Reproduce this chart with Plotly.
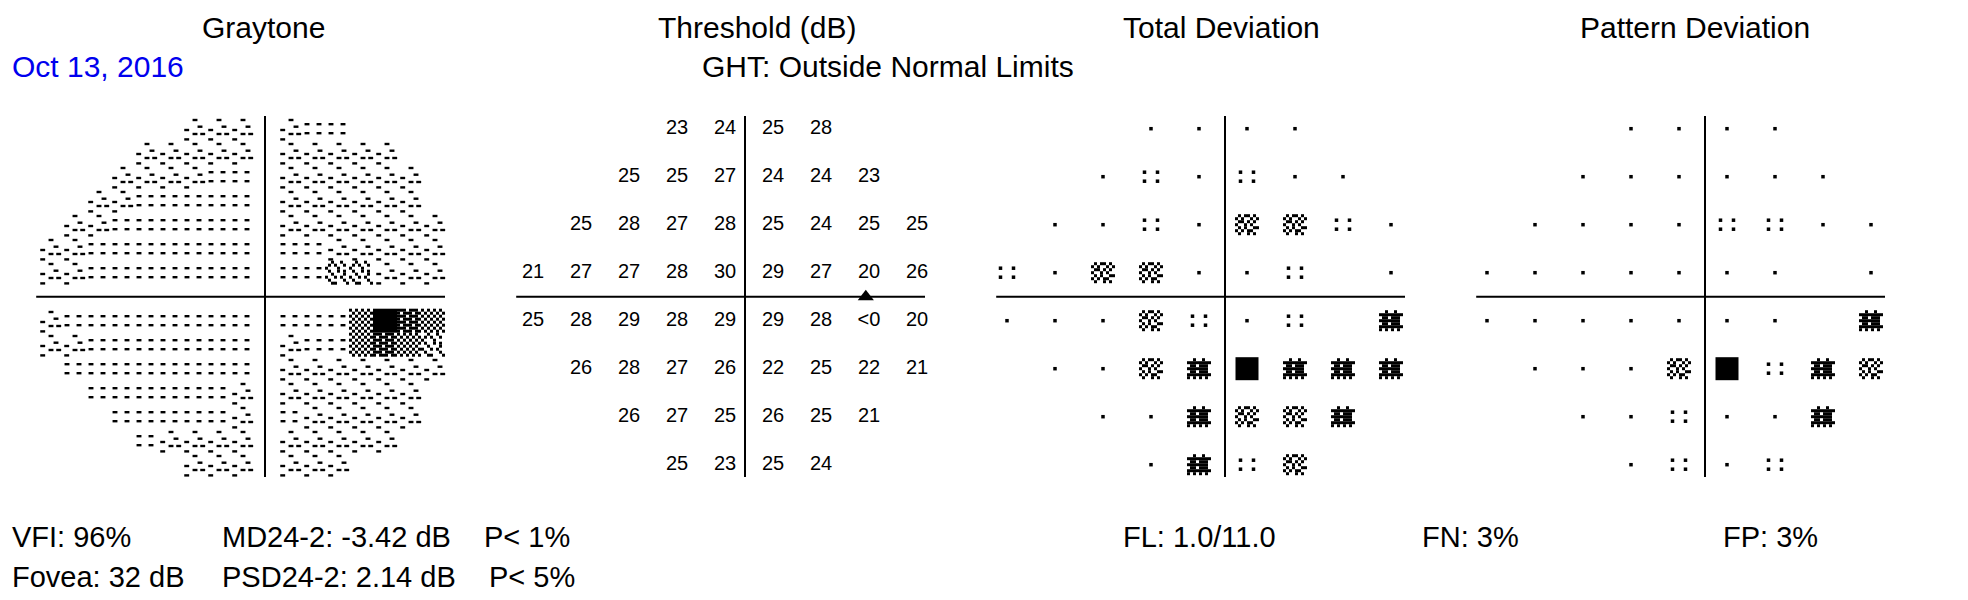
import plotly.graph_objects as go

# ---------------- data ----------------
row_y = [21, 15, 9, 3, -3, -9, -15, -21]
row_x = [
    [-9, -3, 3, 9],
    [-15, -9, -3, 3, 9, 15],
    [-21, -15, -9, -3, 3, 9, 15, 21],
    [-27, -21, -15, -9, -3, 3, 9, 15, 21],
    [-27, -21, -15, -9, -3, 3, 9, 15, 21],
    [-21, -15, -9, -3, 3, 9, 15, 21],
    [-15, -9, -3, 3, 9, 15],
    [-9, -3, 3, 9],
]
threshold_db = [
    ["23", "24", "25", "28"],
    ["25", "25", "27", "24", "24", "23"],
    ["25", "28", "27", "28", "25", "24", "25", "25"],
    ["21", "27", "27", "28", "30", "29", "27", "20", "26"],
    ["25", "28", "29", "28", "29", "29", "28", "<0", "20"],
    ["26", "28", "27", "26", "22", "25", "22", "21"],
    ["26", "27", "25", "26", "25", "21"],
    ["25", "23", "25", "24"],
]
# 0 = not significant, 1 = P<5%, 2 = P<2%, 3 = P<1%, 4 = P<0.5%, None = blind spot
total_dev_class = [
    [0, 0, 0, 0],
    [0, 1, 0, 1, 0, 0],
    [0, 0, 1, 0, 2, 2, 1, 0],
    [1, 0, 2, 2, 0, 0, 1, None, 0],
    [0, 0, 0, 2, 1, 0, 1, None, 3],
    [0, 0, 2, 3, 4, 3, 3, 3],
    [0, 0, 3, 2, 2, 3],
    [0, 3, 1, 2],
]
pattern_dev_class = [
    [0, 0, 0, 0],
    [0, 0, 0, 0, 0, 0],
    [0, 0, 0, 0, 1, 1, 0, 0],
    [0, 0, 0, 0, 0, 0, 0, None, 0],
    [0, 0, 0, 0, 0, 0, 0, None, 3],
    [0, 0, 0, 2, 4, 1, 3, 2],
    [0, 0, 1, 0, 0, 3],
    [0, 1, 0, 1],
]
blind_spot_x = [14.6]
blind_spot_y = [0.0]

# graytone tiles: 0 (lightest) .. 4 (black), 'a' = light dither, '.' = outside field
graytone_x = [-27, -24, -21, -18, -15, -12, -9, -6, -3, 3, 6, 9, 12, 15, 18, 21]
graytone_y = [21, 18, 15, 12, 9, 6, 3, -3, -6, -9, -12, -15, -18, -21]
graytone_levels = [
    "......111100....",
    "....1111111111..",
    "...111100111111.",
    "..1100000111111.",
    ".110000001111111",
    "1100000000011111",
    "11000000000aa111",
    "1000000000002432",
    "110000000100232a",
    ".000000001111111",
    "..0000001111111.",
    "...000001011111.",
    "....0111111111..",
    "......111111....",
]

titles = ["Graytone", "Threshold (dB)", "Total Deviation", "Pattern Deviation"]
exam_date = "Oct 13, 2016"
ght_text = "GHT: Outside Normal Limits"
index_labels = ["VFI: 96%", "Fovea: 32 dB"]
global_labels = ["MD24-2: -3.42 dB", "PSD24-2: 2.14 dB"]
global_p_labels = ["P< 1%", "P< 5%"]
reliability_labels = ["FL: 1.0/11.0", "FN: 3%", "FP: 3%"]

# ---------------- layout / style constants ----------------
OFF = 8                        # page body margin
W, H = 1968 - OFF, 600 - OFF
PPD = 8.0                      # pixels per degree
ZERO_Y = 296.7 - OFF           # pixel row of horizontal meridian
PANEL_C = [265 - OFF, 749 - OFF, 1223 - OFF, 1703 - OFF]
VLINE_OFF = [0.0, -0.5, 0.25, 0.25]
XR = [-31, 25]
YR = [-(H - ZERO_Y) / PPD, ZERO_Y / PPD]
FONT = "Liberation Sans, Arial, sans-serif"


def grid(rows, cell):
    nr, nc = len(rows), len(rows[0])
    out = []
    for i, r in enumerate(rows):
        for j, ch in enumerate(r):
            if ch == "X":
                out.append(((j - (nc - 1) / 2) * cell / PPD, -(i - (nr - 1) / 2) * cell / PPD))
    return out


def px(dxy):
    return [(dx / PPD, -dy / PPD) for dx, dy in dxy]


GT_DASH = {
    "0": px([(-6, -4.5), (6, -4.5), (-6, 4.5), (6, 4.5)]),
    "1": px([(2, -8.7), (7, -2), (-6.3, 1.3), (2, 5.3), (9.7, 5.3), (-6.3, 10.7)]),
}
GT_SQ = {
    "a": grid(["..X..X..", ".X.X..X.", "X...X...", ".X..X.X.",
               "..X...X.", "X..X.X..", ".X....X.", "..XX...X"], 3),
    "2": grid(["X.X.X.X.", ".X.X.X.X"] * 4, 3),
    "3": grid(["XXX.XXX.", "X.XXX.XX"] * 4, 3),
}
SYM_DOTS = {0: [(0, 0)], 1: px([(-6.5, -4.5), (6.5, -4.5), (-6.5, 4.5), (6.5, 4.5)])}
SYM_SQ = {
    2: grid([".X.XX.X.", "X.X..X.X", ".XX.X.X.", "X..X.X..", ".X.X..XX", "X.X.XX..", ".X..X.X."], 3),
    3: grid(["..X..X..", "XXXXXXXX", ".XX.XXX.", "XXXXXXX.", ".XX.XXX.", "XXXXXXXX", "X.X.X.X."], 3),
}

fig = go.Figure()


def add_pts(i, xs, ys, **marker):
    ax = "" if i == 0 else str(i + 1)
    fig.add_trace(go.Scatter(x=xs, y=ys, mode="markers", xaxis="x" + ax, yaxis="y" + ax,
                             marker=marker, hoverinfo="skip", showlegend=False))


# ---- graytone ----
dash_x, dash_y, sq_x, sq_y, big_x, big_y = [], [], [], [], [], []
for gy, levels in zip(graytone_y, graytone_levels):
    for gx, lv in zip(graytone_x, levels):
        if lv in GT_DASH:
            for dx, dy in GT_DASH[lv]:
                dash_x.append(gx + dx); dash_y.append(gy + dy)
        elif lv in GT_SQ:
            for dx, dy in GT_SQ[lv]:
                sq_x.append(gx + dx); sq_y.append(gy + dy)
        elif lv == "4":
            big_x.append(gx); big_y.append(gy)
add_pts(0, dash_x, dash_y, symbol="line-ew", size=3.5, line=dict(width=2.4, color="black"))
add_pts(0, sq_x, sq_y, symbol="square", size=3, color="black", line=dict(width=0))
add_pts(0, big_x, big_y, symbol="square", size=24, color="black", line=dict(width=0))

# ---- threshold values ----
tx, ty, tt = [], [], []
for yv, xs, vals in zip(row_y, row_x, threshold_db):
    for xv, v in zip(xs, vals):
        tx.append(xv); ty.append(yv); tt.append(v)
fig.add_trace(go.Scatter(x=tx, y=ty, text=tt, mode="text", xaxis="x2", yaxis="y2",
                         textposition="middle center",
                         textfont=dict(family=FONT, size=20, color="black"),
                         hoverinfo="skip", showlegend=False))
add_pts(1, blind_spot_x, blind_spot_y, symbol="triangle-up", size=14, color="black", line=dict(width=0))

# ---- probability plots ----
for pi, classes in ((2, total_dev_class), (3, pattern_dev_class)):
    dx_, dy_, sx_, sy_, bx_, by_ = [], [], [], [], [], []
    for yv, xs, cl in zip(row_y, row_x, classes):
        for xv, c in zip(xs, cl):
            if c is None:
                continue
            if c in SYM_DOTS:
                for ox, oy in SYM_DOTS[c]:
                    dx_.append(xv + ox); dy_.append(yv + oy)
            elif c in SYM_SQ:
                for ox, oy in SYM_SQ[c]:
                    sx_.append(xv + ox); sy_.append(yv + oy)
            else:
                bx_.append(xv); by_.append(yv)
    add_pts(pi, dx_, dy_, symbol="square", size=3.5, color="black", line=dict(width=0))
    add_pts(pi, sx_, sy_, symbol="square", size=3, color="black", line=dict(width=0))
    add_pts(pi, bx_, by_, symbol="square", size=23, color="black", line=dict(width=0))

# ---- axes, cross lines ----
layout = dict(width=W, height=H, autosize=False, margin=dict(l=0, r=0, t=0, b=0),
              paper_bgcolor="white", plot_bgcolor="rgba(0,0,0,0)", showlegend=False)
shapes = []
for i, c in enumerate(PANEL_C):
    ax = "" if i == 0 else str(i + 1)
    dom = [(c + XR[0] * PPD) / W, (c + XR[1] * PPD) / W]
    layout["xaxis" + ax] = dict(domain=dom, range=XR, visible=False, fixedrange=True,
                                anchor="y" + ax)
    layout["yaxis" + ax] = dict(domain=[0, 1], range=YR, visible=False, fixedrange=True,
                                anchor="x" + ax)
    v = VLINE_OFF[i]
    shapes.append(dict(type="line", xref="x" + ax, yref="y" + ax, x0=v - 28.6, x1=v + 22.5,
                       y0=0, y1=0, line=dict(color="black", width=2), layer="below"))
    shapes.append(dict(type="line", xref="x" + ax, yref="y" + ax, x0=v, x1=v,
                       y0=-22.55, y1=22.6, line=dict(color="black", width=2), layer="below"))
layout["shapes"] = shapes


def ann(text, x, y, size=30, color="black", xanchor="center"):
    return dict(text=text, x=(x - OFF) / W, y=1 - (y - OFF) / H, xref="paper", yref="paper",
                xanchor=xanchor, yanchor="middle", showarrow=False,
                font=dict(family=FONT, size=size, color=color))


anns = []
for t, cx in zip(titles, [263, 757, 1221, 1695]):
    anns.append(ann(t, cx, 27))
anns.append(ann(exam_date, 10, 66, color="#0000ee", xanchor="left"))
anns.append(ann(ght_text, 888, 66))
for k, yy in enumerate([537, 577]):
    anns.append(ann(index_labels[k], 10, yy, size=29, xanchor="left"))
    anns.append(ann(global_labels[k], 220, yy, size=29, xanchor="left"))
    anns.append(ann(global_p_labels[k], [482, 487][k], yy, size=29, xanchor="left"))
for t, lx in zip(reliability_labels, [1121, 1420, 1721]):
    anns.append(ann(t, lx, 537, size=29, xanchor="left"))
layout["annotations"] = anns

fig.update_layout(**layout)
fig.write_html("out.html")
